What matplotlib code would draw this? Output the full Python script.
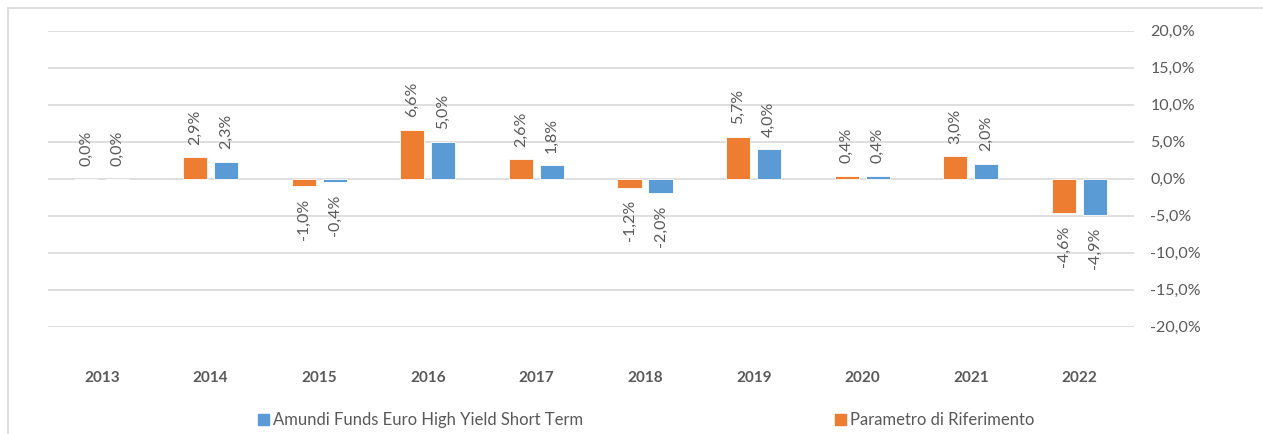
import numpy as np
import matplotlib.pyplot as plt
from matplotlib.patches import Patch, Rectangle

plt.rcParams['font.family'] = ['Lato', 'DejaVu Sans']

years = ['2013', '2014', '2015', '2016', '2017', '2018', '2019', '2020', '2021', '2022']
benchmark = [0.0, 2.9, -1.0, 6.6, 2.6, -1.2, 5.7, 0.4, 3.0, -4.6]
fund = [0.0, 2.3, -0.4, 5.0, 1.8, -2.0, 4.0, 0.4, 2.0, -4.9]

fund_name = 'Amundi Funds Euro High Yield Short Term'
bench_name = 'Parametro di Riferimento'

orange = '#ED7D31'
blue = '#5B9BD5'
grey_txt = '#595959'
grid_col = '#D9D9D9'


def pct(v):
    return f'{v:.1f}%'.replace('.', ',')


fig = plt.figure(figsize=(12.63, 4.34), dpi=100)
ax = fig.add_axes([47.6 / 1263, 1 - 326.7 / 434, 1086.2 / 1263, 296 / 434])

x = np.arange(len(years))
w = 0.222
off = 0.143
b1 = ax.bar(x - off, benchmark, w, color=orange, edgecolor='white', linewidth=0.6, zorder=3)
b2 = ax.bar(x + off, fund, w, color=blue, edgecolor='white', linewidth=0.6, zorder=3)

# data labels, rotated like the Excel original
for bars, vals in ((b1, benchmark), (b2, fund)):
    for rect, v in zip(bars, vals):
        cx = rect.get_x() + rect.get_width() / 2
        if v >= 0:
            ax.annotate(pct(v), (cx, v), xytext=(0, 9), textcoords='offset points',
                        rotation=90, ha='center', va='bottom', fontsize=11.5, color=grey_txt)
        else:
            ax.annotate(pct(v), (cx, v), xytext=(0, -9), textcoords='offset points',
                        rotation=90, ha='center', va='top', fontsize=11.5, color=grey_txt)

ax.set_xlim(-0.5, len(years) - 0.5)
ax.set_ylim(-20, 20)
ax.set_yticks(np.arange(-20, 21, 5))
ax.set_yticklabels([pct(t) for t in np.arange(-20, 21, 5)])
ax.yaxis.tick_right()
ax.tick_params(axis='y', length=0, pad=12, labelsize=11.5, labelcolor=grey_txt)
ax.set_xticks(x)
ax.set_xticklabels(years, fontweight='bold')
ax.tick_params(axis='x', length=0, pad=32, labelsize=11, labelcolor=grey_txt)
ax.grid(axis='y', color=grid_col, linewidth=1.2, zorder=0)
for s in ax.spines.values():
    s.set_visible(False)

# chart border
fig.patches.append(Rectangle((8 / 1263, -0.1), 1.2, 1 - 8 / 434 + 0.1,
                             transform=fig.transFigure, fill=False,
                             edgecolor=grid_col, linewidth=1.2))

leg_kw = dict(frameon=False, fontsize=12, handlelength=0.65, handleheight=0.65,
              handletextpad=0.25, borderpad=0, borderaxespad=0, labelcolor=grey_txt)
fig.legend(handles=[Patch(color=blue, label=fund_name)], loc='center left',
           bbox_to_anchor=(258 / 1263, 1 - 420 / 434), **leg_kw)
fig.legend(handles=[Patch(color=orange, label=bench_name)], loc='center left',
           bbox_to_anchor=(835 / 1263, 1 - 420 / 434), **leg_kw)

fig.savefig('out.png', dpi=100)
